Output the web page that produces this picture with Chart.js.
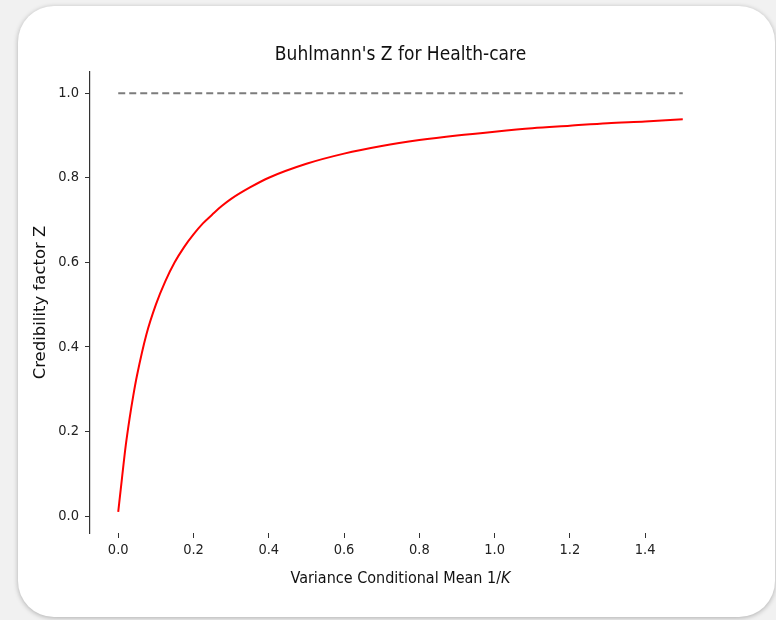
<!DOCTYPE html>
<html>
<head>
<meta charset="utf-8">
<script src="https://cdn.jsdelivr.net/npm/chart.js@4.4.0/dist/chart.umd.min.js"></script>
<style>
    html, body { margin: 0; padding: 0; background: #f1f1f1; }
    #wrap { position: relative; width: 776px; height: 620px; overflow: hidden; }
    #card {
        position: absolute; left: 18px; top: 6px; width: 757px; height: 611px;
        background: #fff; border-radius: 36px;
        box-shadow: 0 1px 5px rgba(0, 0, 0, 0.28);
    }
    #chart { position: absolute; left: 0; top: 0; }
</style>
</head>
<body>
<div id="wrap">
    <div id="card"></div>
    <canvas id="chart" width="776" height="620"></canvas>
</div>
<script>
// --- Data ---
const varianceMean = [0, 0.005, 0.01, 0.02, 0.03, 0.04, 0.05, 0.075, 0.1, 0.125, 0.15, 0.175, 0.2, 0.225, 0.25, 0.275, 0.3, 0.35, 0.4, 0.5, 0.6, 0.7, 0.8, 0.9, 1.0, 1.1, 1.2, 1.3, 1.4, 1.5];
const credibilityZ = [0.01, 0.05, 0.09, 0.167, 0.23, 0.285, 0.333, 0.43, 0.5, 0.555, 0.6, 0.636, 0.666, 0.692, 0.713, 0.733, 0.75, 0.777, 0.8, 0.833, 0.857, 0.875, 0.889, 0.9, 0.909, 0.917, 0.923, 0.929, 0.933, 0.938];

// Full credibility reference line
const limitX = [0, 1.5];
const limitZ = [1.0, 1.0];

// --- Tick labels ---
const xTicks = [0.0, 0.2, 0.4, 0.6, 0.8, 1.0, 1.2, 1.4];
const yTicks = [0.0, 0.2, 0.4, 0.6, 0.8, 1.0];

const TITLE = "Buhlmann's Z for Health-care";
const X_LABEL = 'Variance Conditional Mean 1/';
const X_LABEL_ITALIC = 'K';
const Y_LABEL = 'Credibility factor Z';

const FONT = "'DejaVu Sans', sans-serif";
const FONT_COND = "'DejaVu Sans Condensed', 'DejaVu Sans', sans-serif";

/**
 * Draws the title and the x axis label (K in italics), centred on the plot
 */
const textPlugin = {
    id: 'texts',
    afterDraw(chart) {
        const { ctx, scales: { x } } = chart;
        const cx = (x.left + x.right) / 2;
        ctx.save();
        ctx.fillStyle = '#111';
        ctx.textBaseline = 'middle';

        // title
        ctx.textAlign = 'center';
        ctx.font = `19px ${FONT_COND}`;
        ctx.fillText(TITLE, cx, 55);

        // x label
        const size = 16;
        ctx.font = `${size}px ${FONT_COND}`;
        const w1 = ctx.measureText(X_LABEL).width;
        ctx.font = `italic ${size}px ${FONT_COND}`;
        const w2 = ctx.measureText(X_LABEL_ITALIC).width;
        const start = cx - (w1 + w2) / 2;
        ctx.textAlign = 'left';
        ctx.font = `${size}px ${FONT_COND}`;
        ctx.fillText(X_LABEL, start, 579);
        ctx.font = `italic ${size}px ${FONT_COND}`;
        ctx.fillText(X_LABEL_ITALIC, start + w1, 579);
        ctx.restore();
    }
};

const toPoints = (xs, ys) => xs.map((v, i) => ({ x: v, y: ys[i] }));

new Chart(document.getElementById('chart').getContext('2d'), {
    type: 'line',
    data: {
        datasets: [
            {
                label: 'Z',
                data: toPoints(varianceMean, credibilityZ),
                borderColor: '#ff0000',
                borderWidth: 2,
                pointRadius: 0,
                cubicInterpolationMode: 'monotone',
                fill: false
            },
            {
                label: 'limit',
                data: toPoints(limitX, limitZ),
                borderColor: '#7c7c7c',
                borderWidth: 2,
                borderDash: [7, 4],
                pointRadius: 0,
                fill: false
            }
        ]
    },
    options: {
        responsive: false,
        animation: false,
        layout: { padding: { left: 0, right: 65, top: 72, bottom: 0 } },
        plugins: {
            legend: { display: false },
            tooltip: { enabled: false },
            title: { display: false }
        },
        scales: {
            x: {
                type: 'linear',
                min: -0.075,
                max: 1.575,
                afterBuildTicks: scale => { scale.ticks = xTicks.map(v => ({ value: v })); },
                afterFit: scale => { scale.height = 87; },
                border: { display: false },
                grid: { display: true, drawOnChartArea: false, drawTicks: true, tickLength: 5, tickColor: '#333', tickWidth: 1 },
                ticks: {
                    color: '#222',
                    padding: 4,
                    maxRotation: 0,
                    font: { family: FONT_COND, size: 14.5 },
                    callback: v => Number(v).toFixed(1)
                },
                title: { display: false }
            },
            y: {
                type: 'linear',
                min: -0.04,
                max: 1.05,
                afterBuildTicks: scale => { scale.ticks = yTicks.map(v => ({ value: v })); },
                afterFit: scale => { scale.width = 90; },
                border: { display: true, color: '#333', width: 1.2 },
                grid: { display: true, drawOnChartArea: false, drawTicks: true, tickLength: 5, tickColor: '#333', tickWidth: 1 },
                ticks: {
                    color: '#222',
                    padding: 6,
                    font: { family: FONT_COND, size: 14.5 },
                    callback: v => Number(v).toFixed(1)
                },
                title: {
                    display: true,
                    text: Y_LABEL,
                    color: '#111',
                    font: { family: FONT, size: 16.5 },
                    padding: { top: 31, bottom: 0 }
                }
            }
        }
    },
    plugins: [textPlugin]
});
</script>
</body>
</html>
